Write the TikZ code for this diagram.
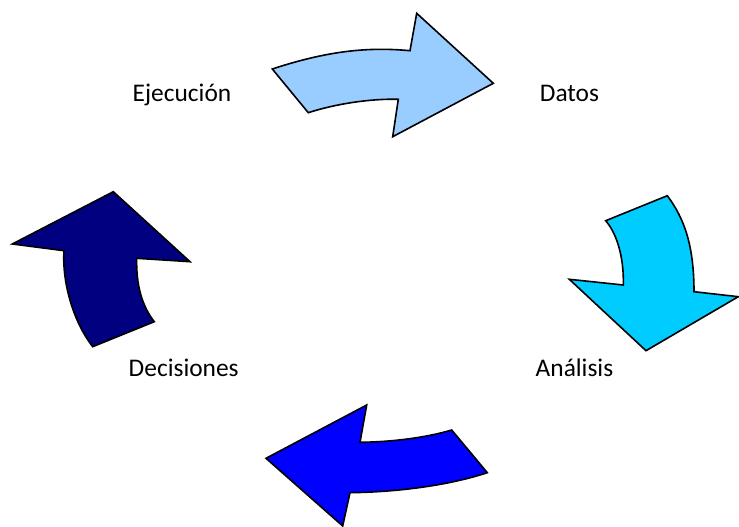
\documentclass[tikz,border=0pt]{standalone}
\usepackage{fontspec}
\setmainfont{Carlito}
\usepackage{tikz}
\definecolor{cyLight}{RGB}{153,204,255}
\definecolor{cyCyan}{RGB}{0,204,255}
\definecolor{cyBlue}{RGB}{0,0,255}
\definecolor{cyNavy}{RGB}{0,0,128}

\begin{document}
\begin{tikzpicture}[
      x=1pt, y=-1pt,
      bigarrow/.style={draw=black, line width=1.6pt, line join=miter},
      stage/.style={anchor=base, inner sep=0pt, font=\fontsize{25.4}{30}\selectfont}
    ]
      \useasboundingbox (0,0) rectangle (739,527);

      % top: Ejecucion -> Datos
      \filldraw[bigarrow, fill=cyLight] (272.3,69) .. controls (330,50) and (370,47) .. (410,50.7)
        -- (416.7,13.3) -- (493.3,83.3) -- (392.7,136.7) -- (398.3,99.3)
        .. controls (370,98.5) and (335,104) .. (308.3,112.7) -- cycle;
      % right: Datos -> Analisis
      \filldraw[bigarrow, fill=cyCyan] (605.7,220.7) -- (667.3,195.7)
        .. controls (684,218) and (694,245) .. (694,291.7)
        -- (738.3,296.7) -- (646,350.7) -- (569.3,279.3) -- (623.3,285)
        .. controls (624,260) and (618,235) .. (605.7,220.7) -- cycle;
      % bottom: Analisis -> Decisiones
      \filldraw[bigarrow, fill=cyBlue] (451.7,430) -- (487.3,472.7)
        .. controls (450,485) and (400,492) .. (350,492.7)
        -- (342.7,526) -- (266,458.3) -- (366.7,405) -- (360,442.3)
        .. controls (390,442) and (425,438) .. (451.7,430) -- cycle;
      % left: Decisiones -> Ejecucion
      \filldraw[bigarrow, fill=cyNavy] (92.7,346.7) -- (154.3,321.7)
        .. controls (142,306) and (136,285) .. (136.7,258.3)
        -- (190,261.7) -- (113.3,191.7) -- (12.3,244) -- (64,250.7)
        .. controls (62,280) and (72,320) .. (92.7,346.7) -- cycle;

      \node[stage] (ejecucion) at (182,101) {Ejecución};
      \node[stage] (datos) at (569.5,101.7) {Datos};
      \node[stage] (analisis) at (574.5,376.7) {Análisis};
      \node[stage] (decisiones) at (183.7,376.7) {Decisiones};
    \end{tikzpicture}
\end{document}
